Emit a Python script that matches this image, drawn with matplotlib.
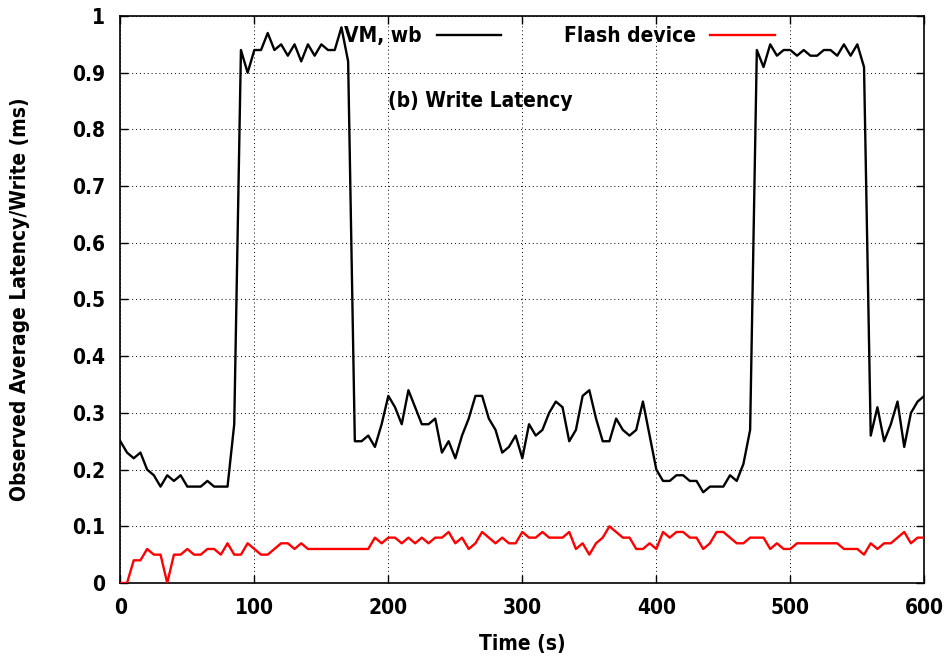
import matplotlib
matplotlib.use('Agg')
import matplotlib.pyplot as plt
import numpy as np

# time axis, one sample every 5 s
time_s = np.arange(0, 601, 5)

vm_wb = [0.25, 0.23, 0.22, 0.23, 0.20, 0.19, 0.17, 0.19, 0.18, 0.19,
         0.17, 0.17, 0.17, 0.18, 0.17, 0.17, 0.17, 0.28, 0.94, 0.90,
         0.94, 0.94, 0.97, 0.94, 0.95, 0.93, 0.95, 0.92, 0.95, 0.93,
         0.95, 0.94, 0.94, 0.98, 0.92, 0.25, 0.25, 0.26, 0.24, 0.28,
         0.33, 0.31, 0.28, 0.34, 0.31, 0.28, 0.28, 0.29, 0.23, 0.25,
         0.22, 0.26, 0.29, 0.33, 0.33, 0.29, 0.27, 0.23, 0.24, 0.26,
         0.22, 0.28, 0.26, 0.27, 0.30, 0.32, 0.31, 0.25, 0.27, 0.33,
         0.34, 0.29, 0.25, 0.25, 0.29, 0.27, 0.26, 0.27, 0.32, 0.26,
         0.20, 0.18, 0.18, 0.19, 0.19, 0.18, 0.18, 0.16, 0.17, 0.17,
         0.17, 0.19, 0.18, 0.21, 0.27, 0.94, 0.91, 0.95, 0.93, 0.94,
         0.94, 0.93, 0.94, 0.93, 0.93, 0.94, 0.94, 0.93, 0.95, 0.93,
         0.95, 0.91, 0.26, 0.31, 0.25, 0.28, 0.32, 0.24, 0.30, 0.32,
         0.33]

flash = [0.00, 0.00, 0.04, 0.04, 0.06, 0.05, 0.05, 0.00, 0.05, 0.05,
         0.06, 0.05, 0.05, 0.06, 0.06, 0.05, 0.07, 0.05, 0.05, 0.07,
         0.06, 0.05, 0.05, 0.06, 0.07, 0.07, 0.06, 0.07, 0.06, 0.06,
         0.06, 0.06, 0.06, 0.06, 0.06, 0.06, 0.06, 0.06, 0.08, 0.07,
         0.08, 0.08, 0.07, 0.08, 0.07, 0.08, 0.07, 0.08, 0.08, 0.09,
         0.07, 0.08, 0.06, 0.07, 0.09, 0.08, 0.07, 0.08, 0.07, 0.07,
         0.09, 0.08, 0.08, 0.09, 0.08, 0.08, 0.08, 0.09, 0.06, 0.07,
         0.05, 0.07, 0.08, 0.10, 0.09, 0.08, 0.08, 0.06, 0.06, 0.07,
         0.06, 0.09, 0.08, 0.09, 0.09, 0.08, 0.08, 0.06, 0.07, 0.09,
         0.09, 0.08, 0.07, 0.07, 0.08, 0.08, 0.08, 0.06, 0.07, 0.06,
         0.06, 0.07, 0.07, 0.07, 0.07, 0.07, 0.07, 0.07, 0.06, 0.06,
         0.06, 0.05, 0.07, 0.06, 0.07, 0.07, 0.08, 0.09, 0.07, 0.08,
         0.08]

xticks = [0, 100, 200, 300, 400, 500, 600]
yticks = [0, 0.1, 0.2, 0.3, 0.4, 0.5, 0.6, 0.7, 0.8, 0.9, 1]
ytick_labels = ['0', '0.1', '0.2', '0.3', '0.4', '0.5', '0.6', '0.7', '0.8', '0.9', '1']

plt.rcParams['font.family'] = ['DejaVu Sans']
plt.rcParams['font.weight'] = 'bold'
plt.rcParams['font.stretch'] = 'condensed'

fig = plt.figure(figsize=(9.49, 6.56), dpi=100)
ax = fig.add_axes([0.1268, 0.1113, 0.8472, 0.8643])

ax.plot(time_s, vm_wb, color='black', linewidth=1.7, label='VM, wb', zorder=3)
ax.plot(time_s, flash, color='red', linewidth=1.7, label='Flash device', zorder=3)

ax.set_xlim(0, 600)
ax.set_ylim(0, 1)
ax.set_xticks(xticks)
ax.set_yticks(yticks)
ax.set_yticklabels(ytick_labels)
ax.tick_params(axis='both', direction='in', length=6, width=1, labelsize=15,
               top=True, right=True)
ax.tick_params(axis='x', pad=11)
ax.tick_params(axis='y', pad=11)
for lbl in ax.get_xticklabels() + ax.get_yticklabels():
    lbl.set_fontweight('bold')
ax.grid(True, color='black', linestyle=(0, (1, 3)), linewidth=0.7, zorder=0)
for s in ax.spines.values():
    s.set_linewidth(1.2)

ax.set_xlabel('Time (s)', fontsize=15, fontweight='bold', labelpad=11)
ax.set_ylabel('Observed Average Latency/Write (ms)', fontsize=15, fontweight='bold', labelpad=30)

ax.text(200, 0.85, '(b) Write Latency', fontsize=15, fontweight='bold', va='center', ha='left')

ax.legend(loc='upper left', bbox_to_anchor=(336 / 949, 1 - 18 / 656), bbox_transform=fig.transFigure,
          borderaxespad=0, ncol=2, frameon=False,
          markerfirst=False, handlelength=3.1, handletextpad=0.7, columnspacing=3.0,
          prop={'size': 15, 'weight': 'bold', 'stretch': 'condensed'})

fig.savefig('out.png', dpi=100)
